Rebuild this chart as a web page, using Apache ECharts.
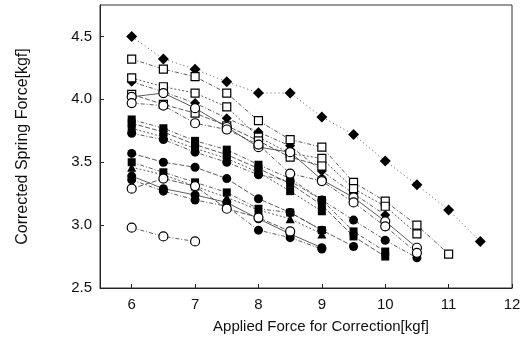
<!DOCTYPE html>
<html>
<head>
<meta charset="utf-8">
<script src="https://cdn.jsdelivr.net/npm/echarts@6/dist/echarts.min.js"></script>
<style>
  html, body { margin: 0; padding: 0; background: #fff; }
  #chart { width: 532px; height: 349px; }
</style>
</head>
<body>
<div id="chart"></div>
<script>
// applied force steps (x), every series starts at 6 kgf
const forceSteps = [6, 6.5, 7, 7.5, 8, 8.5, 9, 9.5, 10, 10.5, 11, 11.5]
const xTicks = [6, 7, 8, 9, 10, 11, 12]
const yTicks = [2.5, 3.0, 3.5, 4.0, 4.5]

// corrected spring force per sample
const dia1 = [4.50, 4.32, 4.24, 4.14, 4.05, 4.05, 3.86, 3.72, 3.51, 3.32, 3.12, 2.87]
const dia2 = [4.14, 4.06, 3.97, 3.85, 3.74, 3.63, 3.43, 3.25, 3.08]
const sqOpen1 = [4.32, 4.24, 4.18, 4.05, 3.83, 3.68, 3.62, 3.34, 3.19, 3.00, 2.77]
const sqOpen2 = [4.17, 4.10, 4.05, 3.94, 3.70, 3.57, 3.53, 3.29, 3.15, 2.93]
const sqOpen3 = [4.04, 3.96, 3.89, 3.79, 3.67, 3.54, 3.47]
const ciOpen1 = [4.02, 4.05, 3.93, 3.78, 3.62, 3.58, 3.36, 3.22, 3.03, 2.82]
const ciOpen2 = [3.97, 3.95, 3.81, 3.76, 3.64, 3.41, 3.35, 3.18, 2.99, 2.78]
const sqFill1 = [3.84, 3.77, 3.67, 3.60, 3.48, 3.37, 3.20, 2.95, 2.79]
const sqFill2 = [3.81, 3.74, 3.64, 3.56, 3.45, 3.33, 3.16, 2.91, 2.75]
const sqFill3 = [3.77, 3.70, 3.61, 3.53, 3.42, 3.27, 3.11]
const ciFill1 = [3.73, 3.68, 3.58, 3.50, 3.40, 3.35, 3.20, 3.04, 2.88, 2.74]
const ciFill2 = [3.57, 3.50, 3.46, 3.37, 3.21, 3.10, 2.96, 2.83]
const sqFill4 = [3.50, 3.42, 3.34, 3.26, 3.13, 3.10, 2.96]
const triFill = [3.46, 3.40, 3.31, 3.22, 3.12, 3.05, 2.93]
const ciFill3 = [3.39, 3.29, 3.24, 3.18, 3.05, 2.93, 2.82]
const ciFill4 = [3.36, 3.27, 3.20, 3.15, 2.96, 2.90, 2.81]
const ciOpen3 = [3.29, 3.37, 3.31, 3.13, 3.06, 2.95]
const ciOpen4 = [2.98, 2.91, 2.87]

const dashA = [4, 2, 1, 2]
const dashB = [2, 2]
const dashC = [5, 2]

// [values, symbol, open?, size, dash]
const seriesDefs = [
  [dia1, "diamond", false, 11, [1, 3]],
  [dia2, "diamond", false, 10, dashA],
  [sqOpen1, "rect", true, 8, dashA],
  [sqOpen2, "rect", true, 8, dashB],
  [sqOpen3, "rect", true, 8, dashC],
  [ciOpen1, "circle", true, 9, "solid"],
  [ciOpen2, "circle", true, 9, dashA],
  [sqFill1, "rect", false, 8, dashA],
  [sqFill2, "rect", false, 8, dashC],
  [sqFill3, "rect", false, 8, dashB],
  [ciFill1, "circle", false, 9, dashA],
  [ciFill2, "circle", false, 9, dashC],
  [sqFill4, "rect", false, 8, dashA],
  [triFill, "triangle", false, 9, dashB],
  [ciFill3, "circle", false, 9, "solid"],
  [ciFill4, "circle", false, 9, dashA],
  [ciOpen3, "circle", true, 9, dashC],
  [ciOpen4, "circle", true, 9, dashA]
]

const series = seriesDefs.map(([vals, symbol, open, size, dash]) => ({
  type: "line",
  data: vals.map((v, i) => [forceSteps[i], v]),
  symbol: symbol,
  symbolSize: size,
  showAllSymbol: true,
  animation: false,
  lineStyle: { color: "#333", width: 0.8, type: dash },
  itemStyle: open
    ? { color: "#fff", borderColor: "#000", borderWidth: 1.2 }
    : { color: "#000", borderColor: "#000", borderWidth: 0 },
  emphasis: { disabled: true },
  z: open ? 3 : 2
}))

const labelFont = { fontFamily: "Liberation Sans", fontSize: 15, color: "#111" }

const myChart = echarts.init(document.getElementById("chart"))
myChart.setOption({
  backgroundColor: "#fff",
  animation: false,
  grid: {
    left: 100, right: 20, top: 5, bottom: 61,
    show: true, borderColor: "#333", borderWidth: 1
  },
  xAxis: {
    type: "value",
    min: 5.5,
    max: 12,
    name: "Applied Force for Correction[kgf]",
    nameLocation: "middle",
    nameGap: 31,
    nameTextStyle: { fontFamily: "Liberation Sans", fontSize: 15, color: "#111", padding: [0, 0, 0, 30] },
    axisLine: { lineStyle: { color: "#222", width: 1 } },
    axisTick: { inside: true, length: 4, customValues: xTicks, lineStyle: { color: "#222" } },
    axisLabel: Object.assign({ customValues: xTicks, margin: 9 }, labelFont),
    splitLine: { show: false }
  },
  yAxis: {
    type: "value",
    min: 2.5,
    max: 4.75,
    name: "Corrected Spring Force[kgf]",
    nameLocation: "middle",
    nameGap: 69,
    nameRotate: 90,
    nameTextStyle: { fontFamily: "Liberation Sans", fontSize: 16, color: "#111" },
    axisLine: { lineStyle: { color: "#222", width: 1 } },
    axisTick: { inside: true, length: 4, customValues: yTicks, lineStyle: { color: "#222" } },
    axisLabel: Object.assign({
      customValues: yTicks,
      margin: 8,
      formatter: (v) => v.toFixed(1)
    }, labelFont),
    splitLine: { show: false }
  },
  series: series
})
</script>
</body>
</html>
